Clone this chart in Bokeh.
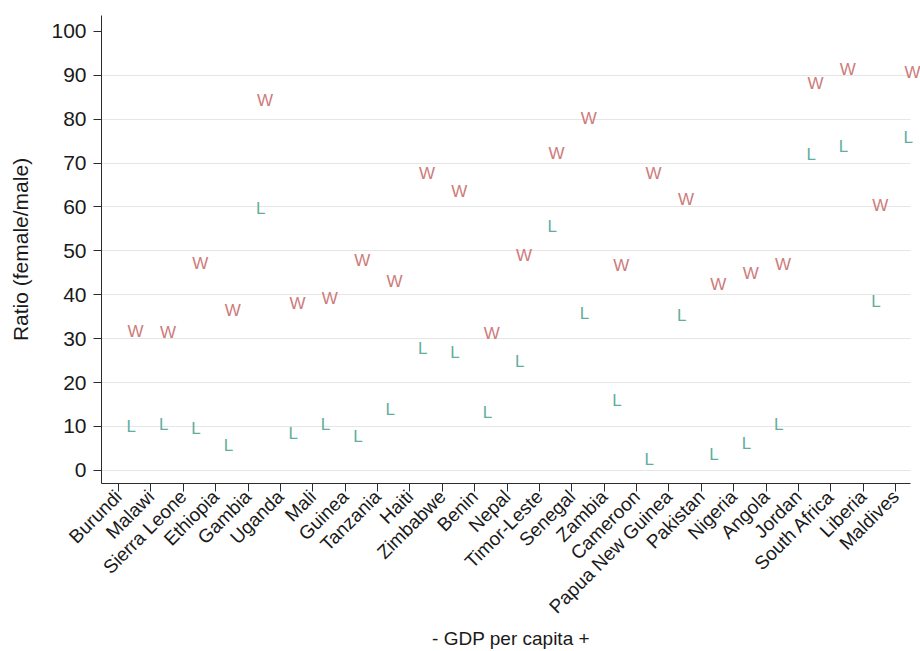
import math
from bokeh.plotting import figure
from bokeh.models import FixedTicker, Range1d, ColumnDataSource
from bokeh.core.properties import value
from bokeh.embed import file_html
from bokeh.resources import INLINE

# ---- data ----
countries = ["Burundi", "Malawi", "Sierra Leone", "Ethiopia", "Gambia", "Uganda",
             "Mali", "Guinea", "Tanzania", "Haiti", "Zimbabwe", "Benin", "Nepal",
             "Timor-Leste", "Senegal", "Zambia", "Cameroon", "Papua New Guinea",
             "Pakistan", "Nigeria", "Angola", "Jordan", "South Africa", "Liberia",
             "Maldives"]
w_values = [31.6, 31.5, 47.0, 36.3, 84.2, 38.1, 39.1, 47.8, 42.9, 67.5, 63.5, 31.1,
            48.9, 72.1, 80.2, 46.7, 67.5, 61.7, 42.3, 44.8, 46.8, 88.2, 91.2, 60.3,
            90.7]
l_values = [9.9, 10.5, 9.5, 5.7, 59.6, 8.3, 10.5, 7.7, 13.8, 27.7, 26.9, 13.1,
            24.9, 55.5, 35.7, 15.9, 2.4, 35.3, 3.6, 6.1, 10.5, 71.9, 73.8, 38.5,
            75.9]
y_ticks = [0, 10, 20, 30, 40, 50, 60, 70, 80, 90, 100]

FONT = "Liberation Sans"
W_COLOR = "#cd7b7b"
L_COLOR = "#5fae9e"
AXIS_COLOR = "#2b2b2b"

x_idx = list(range(len(countries)))
src = ColumnDataSource(dict(x=x_idx, w=w_values, l=l_values))

p = figure(width=920, height=651, output_backend="svg", toolbar_location=None,
           x_range=Range1d(-0.525, 24.77), y_range=Range1d(-3.0, 103.6),
           min_border_left=101, min_border_right=0, min_border_top=15,
           min_border_bottom=168)
p.outline_line_color = None
p.background_fill_color = "white"
p.border_fill_color = "white"

# grid
p.xgrid.visible = False
g = p.ygrid[0]
g.ticker = FixedTicker(ticks=y_ticks[:-1])
g.grid_line_color = "#e6e6e6"
g.grid_line_width = 1
if "cross_bounds" in g.properties():
    g.cross_bounds = (-0.525, 24.46)

# y axis
ya = p.yaxis[0]
ya.ticker = FixedTicker(ticks=y_ticks)
ya.axis_label = "Ratio (female/male)"
ya.axis_label_text_font = FONT
ya.axis_label_text_font_size = "21px"
ya.axis_label_text_font_style = "normal"
ya.axis_label_text_color = "#1a1a1a"
ya.axis_label_standoff = 16
ya.major_label_text_font = FONT
ya.major_label_text_font_size = "21px"
ya.major_label_text_color = "#1a1a1a"
ya.major_label_standoff = 7
ya.major_tick_out = 8
ya.major_tick_in = 0
ya.minor_tick_out = 0
ya.minor_tick_in = 0
ya.axis_line_color = AXIS_COLOR
ya.major_tick_line_color = AXIS_COLOR

# x axis
xa = p.xaxis[0]
xa.ticker = FixedTicker(ticks=x_idx)
xa.major_label_overrides = {i: c for i, c in enumerate(countries)}
xa.major_label_orientation = math.pi / 4
xa.bounds = (-0.525, 24.46)
xa.axis_label = "- GDP per capita +"
xa.axis_label_text_font = FONT
xa.axis_label_text_font_size = "19px"
xa.axis_label_text_font_style = "normal"
xa.axis_label_text_color = "#1a1a1a"
xa.axis_label_standoff = 0
xa.major_label_text_font = FONT
xa.major_label_text_font_size = "19px"
xa.major_label_text_color = "#1a1a1a"
xa.major_label_standoff = 2
xa.major_tick_out = 8
xa.major_tick_in = 0
xa.minor_tick_out = 0
xa.minor_tick_in = 0
xa.axis_line_color = AXIS_COLOR
xa.major_tick_line_color = AXIS_COLOR

# markers as text
p.text(x="x", y="w", text=value("W"), source=src, text_color=W_COLOR,
       text_font=value(FONT), text_font_size=value("17px"),
       text_align="left", text_baseline="middle", x_offset=9)
p.text(x="x", y="l", text=value("L"), source=src, text_color=L_COLOR,
       text_font=value(FONT), text_font_size=value("17px"),
       text_align="left", text_baseline="middle", x_offset=8)

open("out.html", "w").write(file_html(p, INLINE))
